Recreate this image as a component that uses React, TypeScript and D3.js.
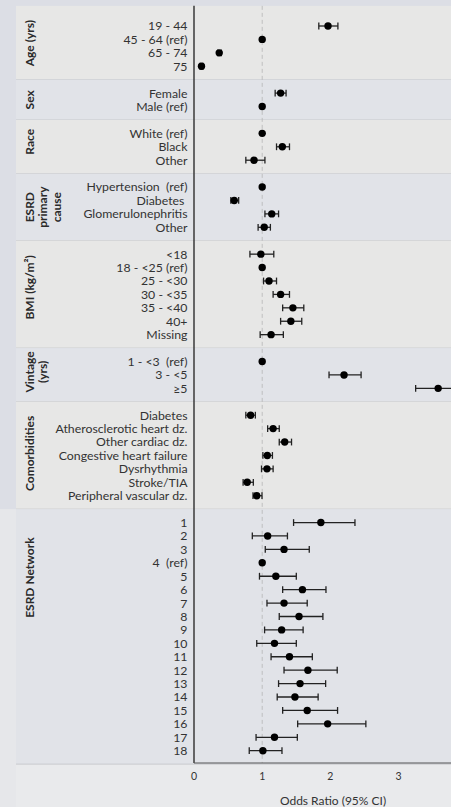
import React from "react";
import * as d3 from "d3";

type Row = { label: string; or: number; lo: number; hi: number };

const ageLabels = ["19 - 44", "45 - 64 (ref)", "65 - 74", "75"];
const ageOR = [1.965, 1, 0.37, 0.11];
const ageLo = [1.83, 1, 0.35, 0.09];
const ageHi = [2.11, 1, 0.4, 0.13];

const sexLabels = ["Female", "Male (ref)"];
const sexOR = [1.27, 1];
const sexLo = [1.19, 1];
const sexHi = [1.35, 1];

const raceLabels = ["White (ref)", "Black", "Other"];
const raceOR = [1, 1.295, 0.88];
const raceLo = [1, 1.21, 0.76];
const raceHi = [1, 1.4, 1.04];

const causeLabels = ["Hypertension  (ref)", "Diabetes ", "Glomerulonephritis", "Other"];
const causeOR = [1, 0.59, 1.14, 1.03];
const causeLo = [1, 0.54, 1.04, 0.94];
const causeHi = [1, 0.655, 1.24, 1.12];

const bmiLabels = ["<18", "18 - <25 (ref)", "25 - <30", "30 - <35", "35 - <40", "40+", "Missing"];
const bmiOR = [0.98, 1, 1.1, 1.27, 1.45, 1.42, 1.13];
const bmiLo = [0.82, 1, 1.02, 1.16, 1.3, 1.27, 0.97];
const bmiHi = [1.17, 1, 1.21, 1.4, 1.61, 1.58, 1.31];

const vintageLabels = ["1 - <3  (ref)", "3 - <5", "≥5"];
const vintageOR = [1, 2.2, 3.58];
const vintageLo = [1, 1.98, 3.25];
const vintageHi = [1, 2.45, 3.95];

const comorbLabels = [
  "Diabetes",
  "Atherosclerotic heart dz.",
  "Other cardiac dz.",
  "Congestive heart failure",
  "Dysrhythmia",
  "Stroke/TIA",
  "Peripheral vascular dz.",
];
const comorbOR = [0.83, 1.16, 1.33, 1.075, 1.07, 0.78, 0.92];
const comorbLo = [0.76, 1.08, 1.25, 1.01, 0.99, 0.72, 0.865];
const comorbHi = [0.9, 1.25, 1.43, 1.15, 1.16, 0.87, 0.997];

const networkLabels = [
  "1", "2", "3", "4  (ref)", "5", "6", "7", "8", "9",
  "10", "11", "12", "13", "14", "15", "16", "17", "18",
];
const networkOR = [1.86, 1.08, 1.32, 1, 1.2, 1.59, 1.32, 1.54, 1.285, 1.18, 1.4, 1.67, 1.555, 1.48, 1.66, 1.96, 1.18, 1.01];
const networkLo = [1.46, 0.855, 1.045, 1, 0.96, 1.3, 1.07, 1.25, 1.035, 0.92, 1.13, 1.32, 1.24, 1.22, 1.3, 1.52, 0.91, 0.81];
const networkHi = [2.36, 1.37, 1.69, 1, 1.5, 1.935, 1.66, 1.89, 1.6, 1.5, 1.735, 2.1, 1.93, 1.82, 2.105, 2.52, 1.515, 1.29];

const xTicks = [0, 1, 2, 3];
const xTitle = "Odds Ratio (95% CI)";

const makeRows = (l: string[], o: number[], lo: number[], hi: number[]): Row[] =>
  l.map((label, i) => ({ label, or: o[i], lo: lo[i], hi: hi[i] }));

type Group = { title: string[]; rows: Row[]; shaded: boolean; labelShift: number };

const groups: Group[] = [
  { title: ["Age (yrs)"], rows: makeRows(ageLabels, ageOR, ageLo, ageHi), shaded: true, labelShift: -3 },
  { title: ["Sex"], rows: makeRows(sexLabels, sexOR, sexLo, sexHi), shaded: false, labelShift: 0 },
  { title: ["Race"], rows: makeRows(raceLabels, raceOR, raceLo, raceHi), shaded: true, labelShift: -5 },
  { title: ["ESRD", "primary", "cause"], rows: makeRows(causeLabels, causeOR, causeLo, causeHi), shaded: false, labelShift: 0 },
  { title: ["BMI (kg/m²)"], rows: makeRows(bmiLabels, bmiOR, bmiLo, bmiHi), shaded: true, labelShift: -7 },
  { title: ["Vintage", "(yrs)"], rows: makeRows(vintageLabels, vintageOR, vintageLo, vintageHi), shaded: false, labelShift: -3 },
  { title: ["Comorbidities"], rows: makeRows(comorbLabels, comorbOR, comorbLo, comorbHi), shaded: true, labelShift: -2 },
  { title: ["ESRD Network"], rows: makeRows(networkLabels, networkOR, networkLo, networkHi), shaded: false, labelShift: -59 },
];

const W = 451;
const H = 807;
const FONT = "Lato, 'Open Sans', sans-serif";

export default function App() {
  // assign row indices with one blank row between groups
  let idx = 0;
  const placed = groups.map((g) => {
    const start = idx;
    idx += g.rows.length;
    const end = idx - 1;
    idx += 1;
    return { ...g, start, end };
  });
  const lastRow = idx - 2;

  const x = d3.scaleLinear().domain([0, 3]).range([194, 398.6]);
  const y = d3.scaleLinear().domain([0, lastRow]).range([26, 750.7]);
  const axisTop = y(-1.5);
  const axisBottom = 763;
  const capH = 3.4;

  return (
    <svg
      width={W}
      height={H}
      style={{ position: "absolute", left: 0, top: 0, fontFamily: FONT }}
    >
      <rect x={0} y={0} width={W} height={H} fill="#dcdee5" />
      <rect x={0} y={y(36)} width={W} height={H - y(36)} fill="#e6e7ea" />
      <rect x={16} y={y(36)} width={W - 16} height={H - y(36)} fill="#e9eaec" />
      {placed.map((g, gi) => {
        const top = gi === 0 ? axisTop : y(g.start - 1);
        const bottom = y(g.end + 1);
        return (
          <g key={"p" + gi}>
            <rect
              x={16}
              y={top}
              width={W - 16}
              height={bottom - top}
              fill={g.shaded ? "#e7e7e6" : "#e1e3e8"}
            />
            <line x1={16} x2={W} y1={bottom} y2={bottom} stroke="#c9cacd" strokeWidth={1} />
          </g>
        );
      })}
      {/* reference dashed line */}
      <line
        x1={x(1)}
        x2={x(1)}
        y1={axisTop}
        y2={axisBottom}
        stroke="#b5b5b5"
        strokeWidth={0.8}
        strokeDasharray="4,3"
      />
      {/* axes */}
      <line x1={x(0)} x2={x(0)} y1={axisTop} y2={axisBottom} stroke="#3a3a3a" strokeWidth={1.5} />
      <line x1={x(0)} x2={W} y1={axisBottom} y2={axisBottom} stroke="#555" strokeWidth={1.2} />
      {xTicks.map((t) => (
        <text key={"t" + t} x={x(t)} y={780} textAnchor="middle" fontSize={10.5} fill="#333">
          {t}
        </text>
      ))}
      <text x={333} y={805} textAnchor="middle" fontSize={12} fill="#333">
        {xTitle}
      </text>
      {placed.map((g, gi) => {
        const cy = (y(g.start) + y(g.end)) / 2 + g.labelShift;
        return (
          <g key={"g" + gi}>
            {g.title.map((t, ti) => {
              const cx = 34 + ti * 13.4;
              return (
                <text
                  key={ti}
                  transform={`translate(${cx},${cy}) rotate(-90)`}
                  textAnchor="middle"
                  fontSize={12}
                  fontWeight="bold"
                  fill="#2a2a2a"
                >
                  {t}
                </text>
              );
            })}
            {g.rows.map((r, ri) => {
              const yy = y(g.start + ri);
              const isRef = r.lo === r.hi;
              return (
                <g key={ri}>
                  <text
                    x={187.5}
                    y={yy}
                    dy="0.36em"
                    textAnchor="end"
                    fontSize={12.3}
                    fill="#333"
                    style={{ whiteSpace: "pre" }}
                  >
                    {r.label}
                  </text>
                  {!isRef && (
                    <g stroke="#222" strokeWidth={1.3}>
                      <line x1={x(r.lo)} x2={Math.min(x(r.hi), W)} y1={yy} y2={yy} />
                      <line x1={x(r.lo)} x2={x(r.lo)} y1={yy - capH} y2={yy + capH} />
                      {x(r.hi) <= W && (
                        <line x1={x(r.hi)} x2={x(r.hi)} y1={yy - capH} y2={yy + capH} />
                      )}
                    </g>
                  )}
                  <circle cx={x(r.or)} cy={yy} r={3.7} fill="#000" />
                </g>
              );
            })}
          </g>
        );
      })}
    </svg>
  );
}
